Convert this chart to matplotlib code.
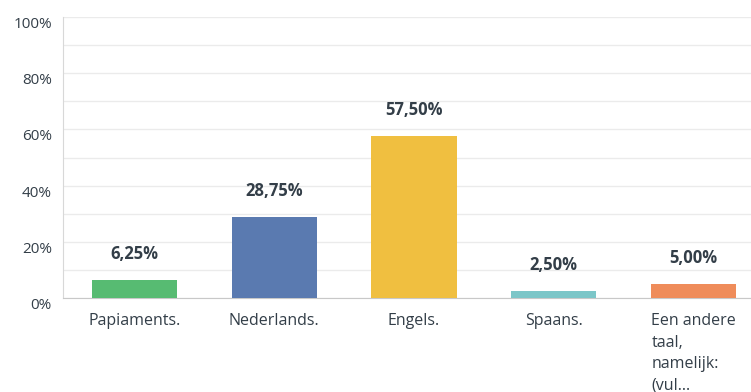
import matplotlib.pyplot as plt
import numpy as np

plt.rcParams['font.family'] = ['Open Sans', 'DejaVu Sans']

categories = ['Papiaments.', 'Nederlands.', 'Engels.', 'Spaans.',
              'Een andere\ntaal,\nnamelijk:\n(vul...']
values = [6.25, 28.75, 57.50, 2.50, 5.00]
labels = ['6,25%', '28,75%', '57,50%', '2,50%', '5,00%']
colors = ['#57bb72', '#5a7ab0', '#f0bf40', '#7cc6c8', '#ef8c5a']
yticks = [0, 20, 40, 60, 80, 100]

text_col = '#333e48'

fig = plt.figure(figsize=(7.51, 3.92), dpi=100)
ax = fig.add_axes([63/751, 1-298/392, 1-63/751, (298-17)/392])

x = np.arange(len(categories))
ax.bar(x, values, width=0.61, color=colors, zorder=3)

for xi, v, lab in zip(x, values, labels):
	ax.annotate(lab, (xi, v), xytext=(0, 19), textcoords='offset points',
		ha='center', va='center', fontsize=12, fontweight='bold', color=text_col)

ax.set_xlim(-0.51, 4.41)
ax.set_ylim(0, 100)
ax.set_yticks(yticks)
ax.set_yticklabels([f'{t}%' for t in yticks])
ax.set_yticks(np.arange(10, 100, 10), minor=True)
ax.grid(axis='y', which='both', color='#ebebeb', linewidth=1, zorder=0)
ax.set_axisbelow(True)

for lab in ax.get_yticklabels():
	lab.set_va('top')
ax.tick_params(axis='y', which='both', length=0, pad=8, labelsize=11, labelcolor=text_col)
ax.set_xticks(x)
ax.set_xticklabels(categories, multialignment='left', linespacing=1.45)
ax.tick_params(axis='x', length=0, pad=11, labelsize=11.5, labelcolor=text_col)

for s in ['top', 'right']:
	ax.spines[s].set_visible(False)
ax.spines['left'].set_color('#d8d8d8')
ax.spines['bottom'].set_color('#c8c8c8')

fig.savefig('out.png', dpi=100)
